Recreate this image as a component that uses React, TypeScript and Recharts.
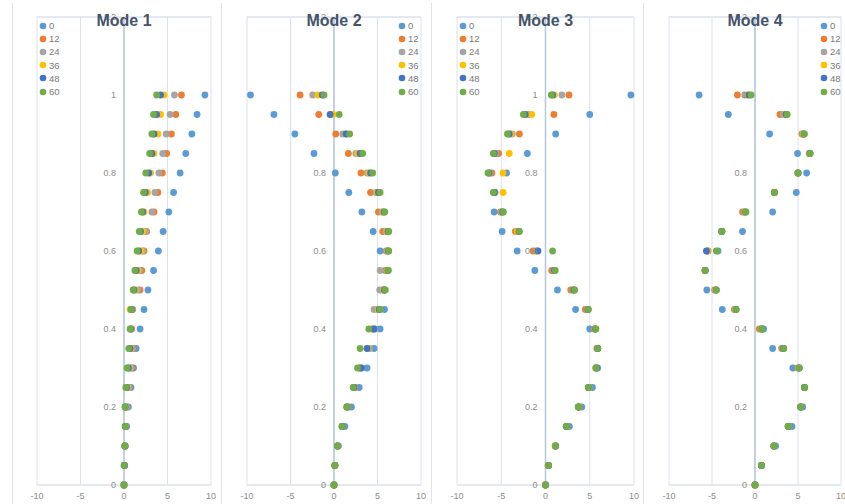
import React from 'react';
import {
  ScatterChart,
  Scatter,
  XAxis,
  YAxis,
  CartesianGrid,
  ReferenceLine,
  ReferenceDot,
  Legend,
} from 'recharts';

// y levels shared by all four panels (top to bottom)
const LEVELS = [1, 0.95, 0.9, 0.85, 0.8, 0.75, 0.7, 0.65, 0.6, 0.55, 0.5, 0.45, 0.4, 0.35, 0.3, 0.25, 0.2, 0.15, 0.1, 0.05, 0];

const SERIES_NAMES = ['0', '12', '24', '36', '48', '60'];
const SERIES_COLORS = ['#5B9BD5', '#ED7D31', '#A5A5A5', '#FFC000', '#4472C4', '#70AD47'];

const X_TICKS = [-10, -5, 0, 5, 10];
const Y_TICKS = [0, 0.2, 0.4, 0.6, 0.8, 1, 1.2];
const Y_TICK_LABELS = ['0', '0.2', '0.4', '0.6', '0.8', '1', '1.2'];

// Mode 1 – x value per level, one array per series
const MODE1_0 = [9.3, 8.4, 7.8, 7.1, 6.45, 5.7, 5.15, 4.5, 3.95, 3.4, 2.75, 2.3, 1.85, 1.4, 1.1, 0.8, 0.5, 0.3, 0.15, 0.05, 0];
const MODE1_12 = [6.6, 5.95, 5.45, 4.9, 4.4, 3.9, 3.45, 2.6, 2.3, 2.05, 1.85, 1.0, 0.9, 1.05, 0.9, 0.6, 0.3, 0.2, 0.1, 0.05, 0];
const MODE1_24 = [5.8, 5.3, 4.85, 4.45, 4.0, 3.55, 3.2, 2.5, 2.15, 1.8, 1.6, 0.95, 0.85, 0.95, 0.8, 0.55, 0.3, 0.2, 0.1, 0.05, 0];
const MODE1_36 = [4.6, 4.2, 3.9, 3.45, 3.05, 2.7, 2.3, 2.2, 2.0, 1.6, 1.3, 0.7, 0.75, 0.8, 0.6, 0.4, 0.2, 0.15, 0.1, 0.05, 0];
const MODE1_48 = [4.2, 3.75, 3.45, 3.2, 2.85, 2.45, 2.15, 1.9, 1.7, 1.4, 1.15, 0.85, 0.75, 0.7, 0.5, 0.3, 0.15, 0.15, 0.1, 0.05, 0];
const MODE1_60 = [3.75, 3.4, 3.2, 2.95, 2.5, 2.25, 2.0, 1.75, 1.5, 1.25, 1.05, 0.8, 0.7, 0.55, 0.35, 0.2, 0.1, 0.15, 0.1, 0, 0];

// Mode 2
const MODE2_0 = [-9.6, -6.9, -4.5, -2.3, 0.15, 1.7, 3.2, 4.5, 5.3, 5.9, 5.8, 5.8, 5.3, 4.6, 3.8, 2.9, 2.0, 1.25, 0.5, 0.1, 0];
const MODE2_12 = [-3.9, -1.75, 0.2, 1.65, 3.1, 4.2, 5.1, 5.6, 6.0, 6.0, 5.6, 5.0, 4.4, 3.9, 3.0, 2.4, 1.6, 1.0, 0.45, 0.1, 0];
const MODE2_24 = [-2.45, -0.3, 1.0, 2.5, 3.8, 4.8, 5.5, 6.0, 6.1, 5.3, 5.25, 4.6, 4.7, 4.1, 2.95, 2.3, 1.55, 0.95, 0.4, 0.1, 0];
const MODE2_36 = [-1.85, -0.1, 1.4, 2.7, 4.0, 4.95, 5.65, 6.1, 6.2, 6.1, 5.7, 5.1, 4.5, 3.9, 3.0, 2.3, 1.5, 0.95, 0.4, 0.1, 0];
const MODE2_48 = [-1.35, -0.45, 1.4, 3.0, 4.2, 5.1, 5.75, 6.2, 6.25, 6.2, 5.8, 5.2, 4.6, 3.8, 3.15, 2.3, 1.5, 0.95, 0.4, 0.1, 0];
const MODE2_60 = [-1.15, 0.6, 1.8, 3.3, 4.45, 5.3, 5.85, 6.3, 6.3, 6.25, 5.9, 5.3, 4.0, 3.0, 2.7, 2.2, 1.45, 0.9, 0.4, 0.1, 0];

// Mode 3
const MODE3_0 = [9.65, 5.0, 1.15, -2.05, -4.4, -5.7, -5.8, -4.9, -3.2, -1.2, 1.35, 3.4, 5.0, 5.9, 5.9, 5.3, 4.1, 2.7, 1.15, 0.35, 0];
const MODE3_12 = [2.65, 0.95, -2.95, -5.3, -6.05, -5.8, -5.1, -3.4, -1.4, 0.7, 2.85, 4.5, 5.5, 5.8, 5.7, 4.9, 3.8, 2.4, 1.1, 0.3, 0];
const MODE3_24 = [1.85, -1.95, -3.75, -5.6, -6.3, -5.8, -5.0, -3.1, -1.1, 0.9, 3.1, 4.7, 5.6, 5.85, 5.7, 4.9, 3.75, 2.4, 1.1, 0.3, 0];
const MODE3_36 = [1.0, -1.55, -3.9, -4.1, -4.8, -4.8, -4.9, -3.2, -1.0, 1.0, 3.2, 4.8, 5.6, 5.9, 5.7, 4.9, 3.75, 2.4, 1.1, 0.3, 0];
const MODE3_48 = [0.8, -2.3, -4.1, -5.8, -6.4, -5.8, -4.85, -3.0, -0.85, 1.0, 3.2, 4.8, 5.65, 5.9, 5.75, 4.85, 3.7, 2.35, 1.15, 0.35, 0];
const MODE3_60 = [0.65, -2.5, -4.3, -5.9, -6.5, -5.9, -4.75, -2.95, 0.8, 1.1, 3.3, 4.85, 5.7, 5.9, 5.7, 4.85, 3.7, 2.35, 1.15, 0.35, 0];

// Mode 4
const MODE4_0 = [-6.5, -3.1, 1.7, 4.95, 6.0, 4.8, 2.05, -1.45, -4.3, -5.8, -5.6, -3.8, 1.0, 2.05, 4.4, 5.75, 5.55, 4.3, 2.4, 0.75, 0];
const MODE4_12 = [-2.05, 2.9, 5.45, 6.3, 5.0, 2.3, -1.45, -3.9, -5.45, -5.8, -4.7, -2.4, 0.5, 3.1, 5.0, 5.75, 5.35, 3.9, 2.2, 0.75, 0];
const MODE4_24 = [-1.2, 3.3, 5.55, 6.35, 5.0, 2.25, -1.25, -3.85, -5.5, -5.8, -4.6, -2.3, 0.7, 3.2, 5.1, 5.75, 5.35, 3.9, 2.2, 0.75, 0];
const MODE4_36 = [-0.9, 3.5, 5.6, 6.4, 5.0, 2.25, -1.15, -3.85, -5.55, -5.8, -4.55, -2.25, 0.75, 3.3, 5.1, 5.75, 5.3, 3.85, 2.2, 0.75, 0];
const MODE4_48 = [-0.7, 3.6, 5.7, 6.4, 5.0, 2.25, -1.1, -3.85, -5.65, -5.8, -4.5, -2.2, 0.8, 3.3, 5.15, 5.75, 5.3, 3.85, 2.2, 0.75, 0];
const MODE4_60 = [-0.45, 3.75, 5.75, 6.4, 5.0, 2.25, -1.05, -3.85, -4.5, -5.8, -4.5, -2.2, 0.8, 3.35, 5.15, 5.75, 5.3, 3.85, 2.2, 0.75, 0];

const GRID = '#DCE1EA';
const FONT = '"Liberation Sans", Arial, sans-serif';

type PanelDef = {
  title: string;
  series: number[][];
  left: number;
  width: number;
  margin: { left: number; right: number };
  legendX: number;
};

const PANELS: PanelDef[] = [
  { title: 'Mode 1', series: [MODE1_0, MODE1_12, MODE1_24, MODE1_36, MODE1_48, MODE1_60], left: 12, width: 209, margin: { left: 25, right: 10 }, legendX: 27 },
  { title: 'Mode 2', series: [MODE2_0, MODE2_12, MODE2_24, MODE2_36, MODE2_48, MODE2_60], left: 221, width: 210, margin: { left: 26, right: 10 }, legendX: 177 },
  { title: 'Mode 3', series: [MODE3_0, MODE3_12, MODE3_24, MODE3_36, MODE3_48, MODE3_60], left: 431, width: 212, margin: { left: 26, right: 9 }, legendX: 28 },
  { title: 'Mode 4', series: [MODE4_0, MODE4_12, MODE4_24, MODE4_36, MODE4_48, MODE4_60], left: 643, width: 202, margin: { left: 26, right: 4 }, legendX: 177 },
];

const LegendList = () => (
  <div style={{ fontFamily: FONT, fontSize: 9.5, color: '#7A7A7A', lineHeight: '13.2px' }}>
    {SERIES_NAMES.map((n, i) => (
      <div key={n} style={{ display: 'flex', alignItems: 'center', height: 13.2 }}>
        <svg width={8} height={8} style={{ marginRight: 2 }}>
          <circle cx={4} cy={4} r={3.3} fill={SERIES_COLORS[i]} />
        </svg>
        <span>{n}</span>
      </div>
    ))}
  </div>
);

function Panel({ p }: { p: PanelDef }) {
  const H = 504;
  const plotCenter = p.margin.left + (p.width - p.margin.left - p.margin.right) / 2;
  return (
    <div style={{ position: 'absolute', left: p.left, top: 0, width: p.width, height: H }}>
      <ScatterChart width={p.width} height={H} margin={{ top: 17, right: p.margin.right, bottom: 0, left: p.margin.left }}>
        <CartesianGrid stroke={GRID} strokeWidth={1} />
        <XAxis
          type="number"
          dataKey="x"
          domain={[-10, 10]}
          ticks={X_TICKS}
          height={19}
          axisLine={{ stroke: GRID }}
          tickLine={false}
          tick={{ fontSize: 9, fill: '#8C8C8C', fontFamily: FONT }}
          interval={0}
        />
        <YAxis
          type="number"
          dataKey="y"
          domain={[0, 1.2]}
          ticks={Y_TICKS}
          width={0}
          tick={false}
          axisLine={false}
          tickLine={false}
        />
        <ReferenceLine y={1.2} stroke={GRID} />
        <ReferenceLine x={0} stroke="#B7C5DE" strokeWidth={1.5} />
        {Y_TICKS.map((t, i) => (
          <ReferenceDot
            key={t}
            x={0}
            y={t}
            r={0}
            fill="none"
            stroke="none"
            label={{ value: Y_TICK_LABELS[i], position: 'left', offset: 8, fontSize: 9, fill: '#8C8C8C', fontFamily: FONT }}
          />
        ))}
        {p.series.map((vals, si) => (
          <Scatter
            key={SERIES_NAMES[si]}
            name={SERIES_NAMES[si]}
            data={LEVELS.map((y, i) => ({ x: vals[i], y }))}
            fill={SERIES_COLORS[si]}
            isAnimationActive={false}
            shape={(s: any) => <circle cx={s.cx} cy={s.cy} r={3.4} fill={SERIES_COLORS[si]} />}
          />
        ))}
        <Legend
          layout="horizontal"
          verticalAlign="middle"
          content={() => <LegendList />}
          wrapperStyle={{ position: 'absolute', top: 19, left: p.legendX, width: 40, height: 80 }}
        />
      </ScatterChart>
      <div
        style={{
          position: 'absolute',
          top: 12,
          left: plotCenter - 50,
          width: 100,
          textAlign: 'center',
          fontFamily: FONT,
          fontWeight: 'bold',
          fontSize: 16,
          color: '#44546A',
          lineHeight: '18px',
        }}
      >
        {p.title}
      </div>
    </div>
  );
}

export default function App() {
  return (
    <div style={{ position: 'absolute', left: 0, top: 0, width: 845, height: 504, background: '#fff', overflow: 'hidden' }}>
      {[12, 221, 431, 643].map((x) => (
        <div key={x} style={{ position: 'absolute', left: x, top: 3, width: 1, height: 501, background: '#E3E3E3' }} />
      ))}
      {PANELS.map((p) => (
        <Panel key={p.title} p={p} />
      ))}
    </div>
  );
}
